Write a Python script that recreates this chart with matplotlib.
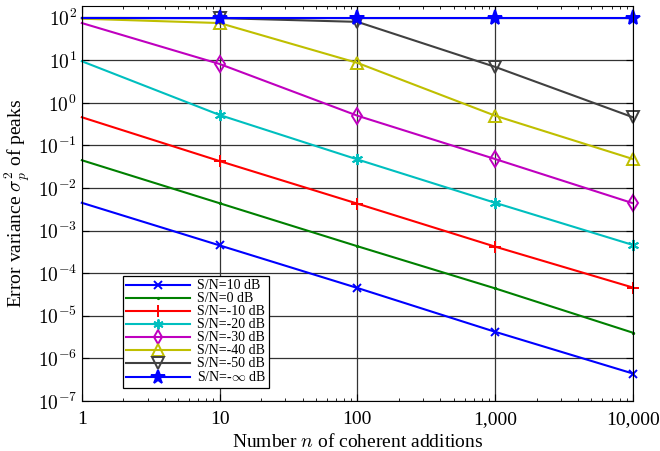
import matplotlib
matplotlib.use('Agg')
import matplotlib.pyplot as plt
import matplotlib.ticker as mticker
import numpy as np

plt.rcParams['font.family'] = ['Liberation Serif', 'DejaVu Serif']
plt.rcParams['mathtext.fontset'] = 'cm'

n = [1, 10, 100, 1000, 10000]
snr_labels = ['S/N=10 dB', 'S/N=0 dB', 'S/N=-10 dB', 'S/N=-20 dB',
              'S/N=-30 dB', 'S/N=-40 dB', 'S/N=-50 dB', r'S/N=-$\infty$ dB']
sigma_10 = [4.5e-3, 4.5e-4, 4.5e-5, 4.2e-6, 4.4e-7]
sigma_0 = [4.5e-2, 4.4e-3, 4.3e-4, 4.4e-5, 4.0e-6]
sigma_m10 = [0.46, 0.043, 4.3e-3, 4.2e-4, 4.6e-5]
sigma_m20 = [9.5, 0.52, 0.047, 4.5e-3, 4.6e-4]
sigma_m30 = [75, 8.2, 0.5, 0.048, 4.4e-3]
sigma_m40 = [95, 75, 8.7, 0.5, 0.048]
sigma_m50 = [99, 98, 80, 7.0, 0.46]
sigma_minf = [100, 100, 100, 100, 100]
series = [sigma_10, sigma_0, sigma_m10, sigma_m20, sigma_m30, sigma_m40, sigma_m50, sigma_minf]

colors = ['#0000ff', '#008000', '#ff0000', '#00bfbf', '#bf00bf', '#bfbf00', '#404040', '#0000ff']
markers = ['x', '.', '+', (6, 2, 0), 'd', '^', 'v', '*']
msizes = [6, 2, 9, 8, 8, 9, 9, 11]

fig = plt.figure(figsize=(6.6, 4.51), dpi=100)
ax = fig.add_axes([0.124, 0.111, 0.835, 0.876])

for vals, lab, c, m, ms in zip(series, snr_labels, colors, markers, msizes):
    filled = m in ('*', '.')
    ax.plot(n, vals, color=c, marker=m, markersize=ms, linewidth=1.5,
            markeredgewidth=1.4, markerfacecolor=c if filled else 'none',
            markevery=[1, 2, 3, 4], label=lab, clip_on=False)

ax.set_xscale('log')
ax.set_yscale('log')
ax.set_xlim(1, 10000)
ax.set_ylim(1e-7, 190)
ax.set_yticks([10.0**k for k in range(-7, 3)])
ax.yaxis.set_major_formatter(mticker.FuncFormatter(lambda v, p: r'$10^{%d}$' % round(np.log10(v))))
ax.set_xticks(n)
ax.set_xticklabels(['1', '10', '100', '1,000', '10,000'])
ax.tick_params(which='both', direction='in', top=True, right=True, labelsize=14)
ax.tick_params(which='major', length=5)
ax.tick_params(which='minor', length=2.5)
ax.tick_params(axis='x', pad=7)
ax.grid(True, which='major', color='0.2', linewidth=0.9)

ax.set_xlabel(r'Number $n$ of coherent additions', fontsize=14)
ax.set_ylabel(r'Error variance $\sigma_p^2$ of peaks', fontsize=14)

leg = ax.legend(loc='lower left', bbox_to_anchor=(0.074, 0.033), borderaxespad=0,
                fontsize=10, fancybox=False, framealpha=1, edgecolor='black',
                handlelength=4.6, labelspacing=0.0, borderpad=0.25,
                handletextpad=0.5, markerscale=0.9)
leg.get_frame().set_linewidth(0.9)

fig.savefig('out.png', dpi=100)
